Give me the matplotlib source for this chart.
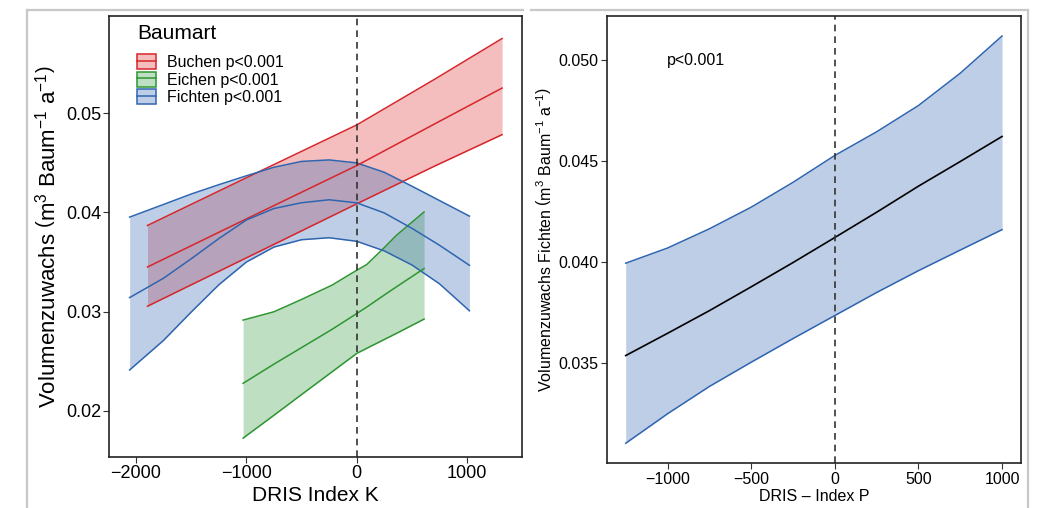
import matplotlib
matplotlib.use('Agg')
import matplotlib.pyplot as plt
from matplotlib.patches import Patch
from matplotlib.lines import Line2D

plt.rcParams['font.family'] = ['Liberation Sans', 'DejaVu Sans']
plt.rcParams['mathtext.fontset'] = 'custom'
plt.rcParams['mathtext.rm'] = 'Liberation Sans'
plt.rcParams['mathtext.it'] = 'Liberation Sans:italic'

# --- Daten linkes Bild (DRIS Index K) ---
buchen_x = [-1896, -1000, 0, 700, 1317]
buchen_fit = [0.03450, 0.03935, 0.04473, 0.04890, 0.05255]
buchen_lo = [0.03054, 0.03542, 0.04087, 0.04465, 0.04785]
buchen_hi = [0.03869, 0.04350, 0.04883, 0.05340, 0.05755]

eichen_x = [-1030, -750, -495, -225, 0, 90, 240, 360, 610]
eichen_fit = [0.02276, 0.02470, 0.02640, 0.02820, 0.02980, 0.03045, 0.03160, 0.03250, 0.03434]
eichen_lo = [0.01723, 0.01954, 0.02167, 0.02391, 0.02578, 0.02629, 0.02713, 0.02780, 0.02924]
eichen_hi = [0.02914, 0.02998, 0.03125, 0.03266, 0.03417, 0.03474, 0.03635, 0.03770, 0.04005]

fichten_x = [-2058, -1750, -1500, -1250, -1000, -750, -500, -250, 0, 250, 500, 750, 1021]
fichten_fit = [0.03141, 0.03337, 0.03533, 0.03736, 0.03924, 0.04040, 0.04098, 0.04128, 0.04097,
               0.03995, 0.03840, 0.03669, 0.03467]
fichten_lo = [0.02411, 0.02710, 0.02995, 0.03270, 0.03500, 0.03651, 0.03725, 0.03745, 0.03709,
              0.03612, 0.03470, 0.03280, 0.03008]
fichten_hi = [0.03953, 0.04081, 0.04186, 0.04280, 0.04370, 0.04456, 0.04515, 0.04530, 0.04500,
              0.04405, 0.04265, 0.04120, 0.03963]

labels = ['Buchen p<0.001', 'Eichen p<0.001', 'Fichten p<0.001']

# --- Daten rechtes Bild (DRIS - Index P) ---
p_x = [-1250, -1000, -750, -500, -250, 0, 250, 500, 750, 1000]
p_fit = [0.03538, 0.03648, 0.03760, 0.03878, 0.03998, 0.04122, 0.04247, 0.04376, 0.04498, 0.04622]
p_lo = [0.03104, 0.03250, 0.03385, 0.03505, 0.03622, 0.03736, 0.03850, 0.03958, 0.04060, 0.04161]
p_hi = [0.03995, 0.04070, 0.04165, 0.04272, 0.04395, 0.04528, 0.04645, 0.04775, 0.04935, 0.05119]

line_cols = ['#D7262B', '#2E9532', '#2F65B0']
fill_cols = ['#E0393C', '#3FA047', '#3A6DB5']
alpha = 0.33

fig = plt.figure(figsize=(10.42, 5.08), dpi=100)

# graue Rahmenlinien (zusammengesetzte Abbildung)
grey = '#C8C8C8'
fig.add_artist(Line2D([0.0259, 0.502], [0.9803, 0.9803], color=grey, lw=1.6))
fig.add_artist(Line2D([0.5096, 0.9866], [0.9803, 0.9803], color=grey, lw=1.6))
fig.add_artist(Line2D([0.0259, 0.0259], [0.0, 0.9803], color=grey, lw=1.6))
fig.add_artist(Line2D([0.9866, 0.9866], [0.0, 0.9803], color=grey, lw=1.6))

ax1 = fig.add_axes([0.1049, 0.101, 0.3956, 0.8675])
ax2 = fig.add_axes([0.5825, 0.088, 0.3973, 0.8805])

# linkes Bild: Baender mit Randlinien
groups = [(buchen_x, buchen_fit, buchen_lo, buchen_hi),
          (eichen_x, eichen_fit, eichen_lo, eichen_hi),
          (fichten_x, fichten_fit, fichten_lo, fichten_hi)]
for (x, f, lo, hi), lc, fc in zip(groups, line_cols, fill_cols):
    ax1.fill_between(x, lo, hi, color=fc, alpha=alpha, lw=0)
    ax1.plot(x, lo, color=lc, lw=1.1)
    ax1.plot(x, hi, color=lc, lw=1.1)
for (x, f, lo, hi), lc in zip(groups, line_cols):
    ax1.plot(x, f, color=lc, lw=1.1)

ax1.axvline(0, color='#333333', lw=1.2, ls=(0, (4, 3)))
ax1.set_xlim(-2242, 1493)
ax1.set_ylim(0.01536, 0.05982)
ax1.set_xticks([-2000, -1000, 0, 1000])
ax1.set_yticks([0.02, 0.03, 0.04, 0.05])
ax1.set_yticklabels(['0.02', '0.03', '0.04', '0.05'])
ax1.tick_params(labelsize=13, length=4, width=0.8, color='#333333', pad=2)
ax1.set_xlabel('DRIS Index K', fontsize=15, labelpad=3)
ax1.set_ylabel(r'Volumenzuwachs $\left(\mathrm{m^3\ Baum^{-1}\ a^{-1}}\right)$', fontsize=16, labelpad=4)

handles = [(Patch(facecolor=fc, alpha=alpha, edgecolor='none'),
            Patch(facecolor='none', edgecolor=lc, lw=1.1),
            Line2D([], [], color=lc, lw=1.1))
           for lc, fc in zip(line_cols, fill_cols)]
ax1.text(0.0681, 0.961, 'Baumart', transform=ax1.transAxes, fontsize=15, ha='left', va='center')
leg = ax1.legend(handles, labels, loc='upper left', bbox_to_anchor=(0.0664, 0.913),
                 frameon=False, fontsize=11.5, borderpad=0, borderaxespad=0,
                 handlelength=1.2, handleheight=1.05, handletextpad=0.7, labelspacing=0.1)

# rechtes Bild
ax2.fill_between(p_x, p_lo, p_hi, color=fill_cols[2], alpha=alpha, lw=0)
ax2.plot(p_x, p_lo, color=line_cols[2], lw=1.1)
ax2.plot(p_x, p_hi, color=line_cols[2], lw=1.1)
ax2.plot(p_x, p_fit, color='black', lw=1.2)
ax2.axvline(0, color='#333333', lw=1.2, ls=(0, (4, 3)))
ax2.text(-1005, 0.0500, 'p<0.001', fontsize=11.5, ha='left', va='center')
ax2.set_xlim(-1362, 1113)
ax2.set_ylim(0.03005, 0.05218)
ax2.set_xticks([-1000, -500, 0, 500, 1000])
ax2.set_yticks([0.035, 0.040, 0.045, 0.050])
ax2.set_yticklabels(['0.035', '0.040', '0.045', '0.050'])
ax2.tick_params(labelsize=11.5, length=4, width=0.8, color='#333333', pad=2)
ax2.set_xlabel('DRIS – Index P', fontsize=11.5, labelpad=2)
ax2.set_ylabel(r'Volumenzuwachs Fichten $\left(\mathrm{m^3\ Baum^{-1}\ a^{-1}}\right)$', fontsize=11.5, labelpad=3)

for ax in (ax1, ax2):
    for s in ax.spines.values():
        s.set_linewidth(1.2)
        s.set_color('#222222')

fig.savefig('out.png', dpi=100)
